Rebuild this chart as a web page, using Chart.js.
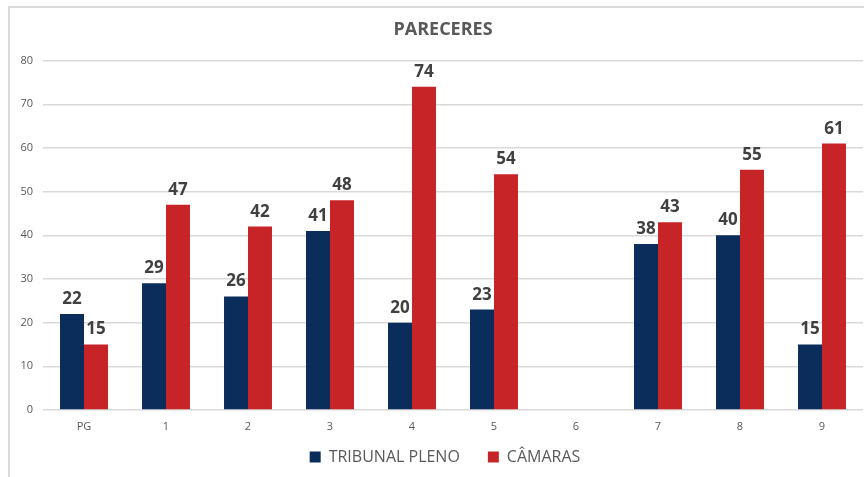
<!DOCTYPE html>
<html>
<head>
<meta charset="utf-8">
<script src="https://cdn.jsdelivr.net/npm/chart.js@4/dist/chart.umd.min.js"></script>
<style>
  html, body { margin: 0; padding: 0; background: #ffffff; overflow: hidden; }
  #frame { position: absolute; left: 8px; top: 6px; width: 870px; height: 480px;
           border-left: 2px solid #d9d9d9; border-top: 2px solid #d9d9d9; box-sizing: border-box; }
  #wrap { position: absolute; left: 0; top: 0; width: 864px; height: 477px; }
</style>
</head>
<body>
<div id="frame"></div>
<div id="wrap"><canvas id="c" width="864" height="477"></canvas></div>
<script>
const categories = ['PG', '1', '2', '3', '4', '5', '6', '7', '8', '9'];
const tribunalPleno = [22, 29, 26, 41, 20, 23, null, 38, 40, 15];
const camaras = [15, 47, 42, 48, 74, 54, null, 43, 55, 61];
const seriesNames = ['TRIBUNAL PLENO', 'CÂMARAS'];
const yTicks = [0, 10, 20, 30, 40, 50, 60, 70, 80];

const FONT = "'Open Sans', 'DejaVu Sans', sans-serif";

const valueLabels = {
  id: 'valueLabels',
  afterDatasetsDraw(chart) {
    const ctx = chart.ctx;
    ctx.save();
    ctx.font = "bold 17px " + FONT;
    ctx.fillStyle = '#404040';
    ctx.textAlign = 'center';
    ctx.textBaseline = 'alphabetic';
    chart.data.datasets.forEach((ds, i) => {
      const meta = chart.getDatasetMeta(i);
      meta.data.forEach((el, j) => {
        const v = ds.data[j];
        if (v === null || v === undefined) return;
        ctx.fillText(String(v), el.x, el.y - 10);
      });
    });
    ctx.restore();
  }
};

// shift title / legend centring slightly to the right, as in the reference
const recentre = {
  id: 'recentre',
  afterLayout(chart) {
    if (chart.titleBlock) chart.titleBlock.left = 23;
    if (chart.legend) chart.legend.left = 27;
  }
};

new Chart(document.getElementById('c'), {
  type: 'bar',
  data: {
    labels: categories,
    datasets: [
      { label: seriesNames[0], data: tribunalPleno, backgroundColor: '#0b2d5c' },
      { label: seriesNames[1], data: camaras, backgroundColor: '#c62426' }
    ]
  },
  options: {
    responsive: false,
    animation: false,
    layout: { padding: { left: 10, right: 1, top: 0, bottom: 2 } },
    datasets: { bar: { categoryPercentage: 0.585, barPercentage: 1.0 } },
    scales: {
      x: {
        afterFit(scale) { scale.height = 11; },
        grid: { display: false, drawTicks: false },
        border: { display: false },
        ticks: { color: '#595959', font: { family: FONT, size: 11 }, padding: -23, mirror: true }
      },
      y: {
        min: 0, max: 80,
        afterBuildTicks(scale) { scale.ticks = yTicks.map(v => ({ value: v })); },
        afterFit(scale) { scale.width = 33; },
        grid: { color: '#d9d9d9', lineWidth: 1.5, drawTicks: false },
        border: { display: false },
        ticks: { color: '#595959', font: { family: FONT, size: 11 }, padding: 10 }
      }
    },
    plugins: {
      title: {
        display: true, text: 'PARECERES', color: '#595959',
        font: { family: FONT, size: 18, weight: 'bold' },
        padding: { top: 19, bottom: 20 }
      },
      legend: {
        position: 'bottom',
        labels: { color: '#595959', font: { family: FONT, size: 16 }, boxWidth: 11, boxHeight: 11, padding: 28 }
      },
      tooltip: { enabled: false }
    }
  },
  plugins: [valueLabels, recentre]
});
</script>
</body>
</html>
